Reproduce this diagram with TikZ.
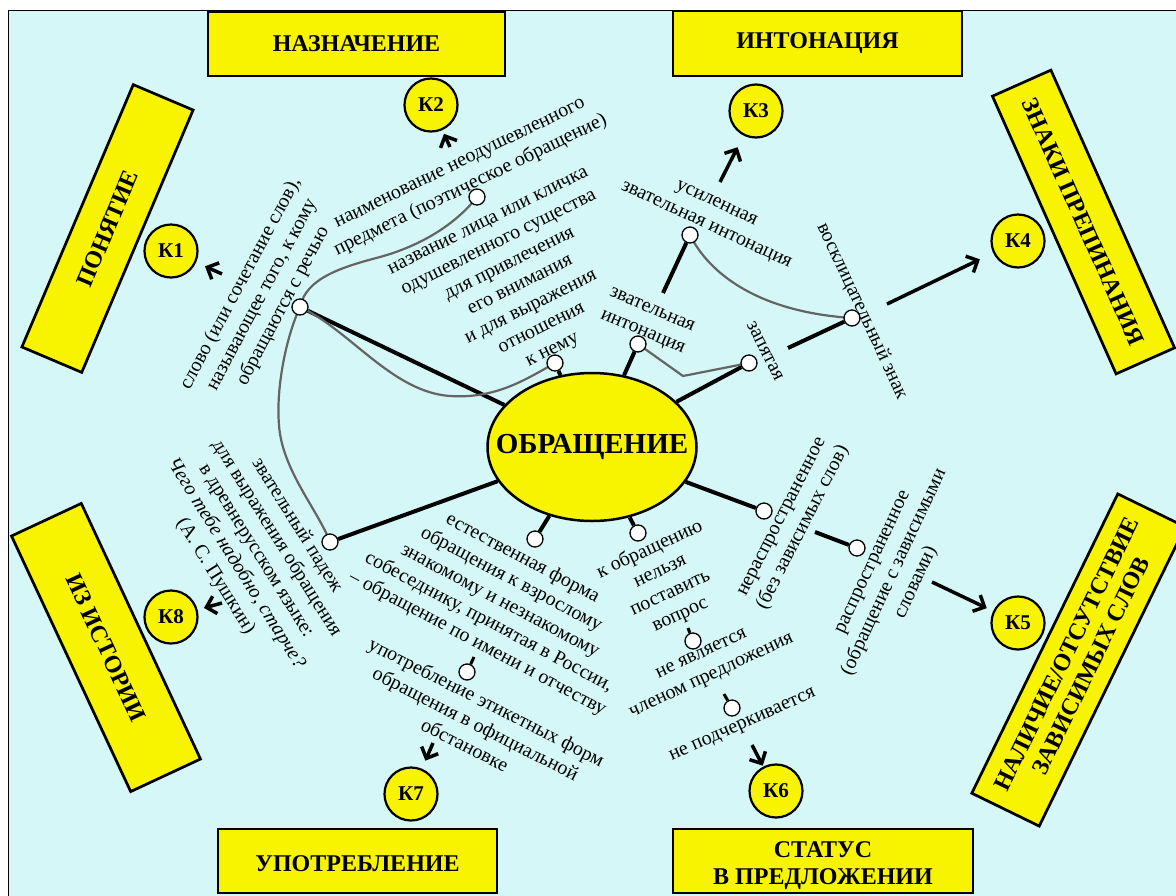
\documentclass[tikz,border=0pt]{standalone}
\usepackage{fontspec}
\setmainfont{Liberation Serif}[
  BoldFont={Liberation Serif Bold},
  ItalicFont={Liberation Serif Italic},
  BoldItalicFont={Liberation Serif Bold Italic}]
\usetikzlibrary{arrows.meta,shapes.geometric}
\definecolor{bgcyan}{RGB}{214,247,247}
\definecolor{boxyellow}{RGB}{248,244,0}
\definecolor{linkgray}{RGB}{100,100,100}
\pgfdeclarelayer{bg}
\pgfdeclarelayer{edges}
\pgfsetlayers{bg,edges,main}

\tikzset{
  topic/.style={draw=black, line width=2.7pt, fill=boxyellow, align=center,
    inner sep=0pt, font=\fontsize{24}{28}\selectfont\bfseries},
  topiclabel/.style={align=center, inner sep=0pt,
    font=\fontsize{24}{27}\selectfont\bfseries},
  kcircle/.style={circle, draw=black, line width=2.2pt, fill=boxyellow,
    minimum size=53pt, inner sep=0pt, font=\fontsize{21}{24}\selectfont\bfseries},
  dot/.style={circle, draw=black, line width=1.3pt, fill=white,
    minimum size=16pt, inner sep=0pt},
  note/.style={font=\fontsize{20}{24}\selectfont, align=center, inner sep=0pt},
  branch/.style={line width=4pt, draw=black},
  link/.style={line width=2.2pt, draw=linkgray},
  pointer/.style={line width=3.5pt, draw=black,
    -{Straight Barb[length=9pt,width=18pt]}},
}

\begin{document}
\begin{tikzpicture}[x=1pt,y=-1pt]
\useasboundingbox (0,0) rectangle (1176,895);

% sheet
\begin{pgfonlayer}{bg}
  \fill[white] (0,0) rectangle (1176,895);
  \draw[fill=bgcyan, line width=1pt] (8.5,10.5) rectangle (1190,910);
\end{pgfonlayer}

% topic boxes
\node[topic, minimum width=297, minimum height=64] (naznach) at (356.5,44) {НАЗНАЧЕНИЕ};
\node[topic, minimum width=289, minimum height=65] (inton) at (817.5,43.5) {ИНТОНАЦИЯ};
\node[topic, minimum width=279, minimum height=64] (upotr) at (357.5,861) {};
\node[topiclabel] (upotr_text) at (357.5,864) {УПОТРЕБЛЕНИЕ};
\node[topic, minimum width=300, minimum height=64] (status) at (823,861) {};
\node[topiclabel] (status_text) at (823,866) {СТАТУС\\В ПРЕДЛОЖЕНИИ};
\node[topic, rotate=67, minimum width=285, minimum height=65] (poniat) at (107.5,228.5) {ПОНЯТИЕ};
\node[topic, rotate=-66, minimum width=304, minimum height=64] (znaki) at (1083.5,222) {ЗНАКИ ПРЕПИНАНИЯ};
\node[topic, rotate=-65, minimum width=282, minimum height=77] (istor) at (106,647.5) {ИЗ ИСТОРИИ};
\node[topic, rotate=64, minimum width=333, minimum height=75, font=\fontsize{24}{27}\selectfont\bfseries] (nalich) at (1078.5,660) {НАЛИЧИЕ/ОТСУТСТВИЕ\\ЗАВИСИМЫХ СЛОВ};

% key circles
\node[kcircle] (K1) at (171,251) {К1};
\node[kcircle] (K2) at (431,105) {К2};
\node[kcircle] (K3) at (756,111) {К3};
\node[kcircle] (K4) at (1018,241) {К4};
\node[kcircle] (K5) at (1018,623) {К5};
\node[kcircle] (K6) at (776,791) {К6};
\node[kcircle] (K7) at (411,794) {К7};
\node[kcircle] (K8) at (171,617) {К8};

% central concept: the oval and its title
\node[ellipse, draw=black, line width=2.5pt, fill=boxyellow, minimum width=209pt,
  minimum height=148pt, inner sep=0pt] (obr) at (592,447) {};
\node[font=\fontsize{29}{32}\selectfont\bfseries, inner sep=0pt] (obr_title)
  at (obr.center) {ОБРАЩЕНИЕ};

% branch ends
\node[dot] (c_slovo)  at (300,307) {};
\node[dot] (c_naim)   at (477,197) {};
\node[dot] (c_nemu)   at (555,363) {};
\node[dot] (c_zvint)  at (638,344) {};
\node[dot] (c_zap)    at (749,363) {};
\node[dot] (c_usil)   at (690,235) {};
\node[dot] (c_vosk)   at (852,318) {};
\node[dot] (c_zvpad)  at (330,542) {};
\node[dot] (c_estest) at (535,539) {};
\node[dot] (c_kobr)   at (638,533) {};
\node[dot] (c_nerasp) at (764,511) {};
\node[dot] (c_rasp)   at (857,548) {};
\node[dot] (c_etik)   at (467,672) {};
\node[dot] (c_neyav)  at (693,641) {};
\node[dot] (c_nepod)  at (732,708) {};

% free ends of short segments and arrows
\coordinate (usil_end)  at (663,293);
\coordinate (vosk_end)  at (788,348);
\coordinate (rasp_end)  at (815,532);
\coordinate (etik_end)  at (474,657);
\coordinate (neyav_end) at (688,628);
\coordinate (nepod_end) at (724,694);
\coordinate (a1) at (222,274);
\coordinate (a2) at (450,147);
\coordinate (a3) at (720,182);
\coordinate (a4) at (887,304);
\coordinate (a5) at (932,582);
\coordinate (a6) at (752,745);
\coordinate (a7) at (433,743);
\coordinate (a8) at (222,603);

% texts
\node[note, rotate=62] (t_slovo) at (262,295)
  {слово (или сочетание слов),\\называющее того, к кому\\обращаются с речью};
\node[note, rotate=26, font=\fontsize{20}{25}\selectfont] (t_naim) at (466,176)
  {наименование неодушевленного\\предмета (поэтическое обращение)};
\node[note, rotate=26.5] (t_lica) at (521,287)
  {название лица или кличка\\одушевленного существа\\для привлечения\\его внимания\\и для выражения\\отношения\\к нему};
\node[note, rotate=-25] (t_usil) at (711,215) {усиленная\\звательная интонация};
\node[note, rotate=-23] (t_zvint) at (647,322) {звательная\\интонация};
\node[note, rotate=-63] (t_zap) at (765,351) {запятая};
\node[note, rotate=-65] (t_vosk) at (862,311) {восклицательный знак};
\node[note, rotate=63] (t_nerasp) at (794,523) {нераспространенное\\(без зависимых слов)};
\node[note, rotate=65] (t_rasp) at (896,573)
  {распространенное\\(обращение с зависимыми\\словами)};
\node[note, rotate=-58] (t_zvpad) at (256,551)
  {звательный падеж\\для выражения обращения\\в древнерусском языке:\\\textit{Чего тебе надобно, старче?}\\(А. С. Пушкин)};
\node[note, rotate=-28] (t_estest) at (500,601)
  {естественная форма\\обращения к взрослому\\знакомому и незнакомому\\собеседнику, принятая в России,\\– обращение по имени и отчеству};
\node[note, rotate=25] (t_kobr) at (665,582) {к обращению\\нельзя\\поставить\\вопрос};
\node[note, rotate=25] (t_neyav) at (707,666) {не является\\членом предложения};
\node[note, rotate=24] (t_nepod) at (743,726) {не подчеркивается};
\node[note, rotate=-27] (t_etik) at (476,723)
  {употребление этикетных форм\\обращения в официальной\\обстановке};

\begin{pgfonlayer}{edges}
  % branches from the central concept
  \draw[branch] (obr) -- (c_slovo);
  \draw[branch] (obr) -- (c_nemu);
  \draw[branch] (obr) -- (c_zvint);
  \draw[branch] (obr) -- (c_zap);
  \draw[branch] (obr) -- (c_zvpad);
  \draw[branch] (obr) -- (c_estest);
  \draw[branch] (obr) -- (c_kobr);
  \draw[branch] (obr) -- (c_nerasp);
  % detached short segments
  \draw[branch] (usil_end) -- (c_usil);
  \draw[branch] (vosk_end) -- (c_vosk);
  \draw[branch] (rasp_end) -- (c_rasp);
  \draw[line width=3pt] (etik_end) -- (c_etik);
  \draw[line width=3pt] (neyav_end) -- (c_neyav);
  \draw[line width=3pt] (nepod_end) -- (c_nepod);
  % grey links between items
  \draw[link] (c_naim.center) .. controls (455,225) and (420,246) .. (380,257)
    .. controls (342,267) and (306,278) .. (c_slovo.center)
    .. controls (285,340) and (276,390) .. (279,425)
    .. controls (282,470) and (318,510) .. (c_zvpad.center);
  \draw[link] (c_slovo.center) .. controls (350,330) and (392,392) .. (450,396)
    .. controls (495,399) and (525,380) .. (c_nemu.center);
  \draw[link] (c_zvint.center) -- (683,376) -- (c_zap.center);
  \draw[link] (c_usil.center) .. controls (710,275) and (760,312) .. (c_vosk.center);
  % arrows to the keys
  \draw[pointer, shorten >=9.7pt] (a1) -- (K1);
  \draw[pointer, shorten >=4pt] (a2) -- (K2);
  \draw[pointer, shorten >=13pt] (a3) -- (K3);
  \draw[pointer, shorten >=14.7pt] (a4) -- (K4);
  \draw[pointer, shorten >=7pt] (a5) -- (K5);
  \draw[pointer, shorten >=1pt] (a6) -- (K6);
  \draw[pointer, shorten >=8.7pt] (a7) -- (K7);
  \draw[pointer, shorten >=6.6pt] (a8) -- (K8);
\end{pgfonlayer}
\end{tikzpicture}
\end{document}
